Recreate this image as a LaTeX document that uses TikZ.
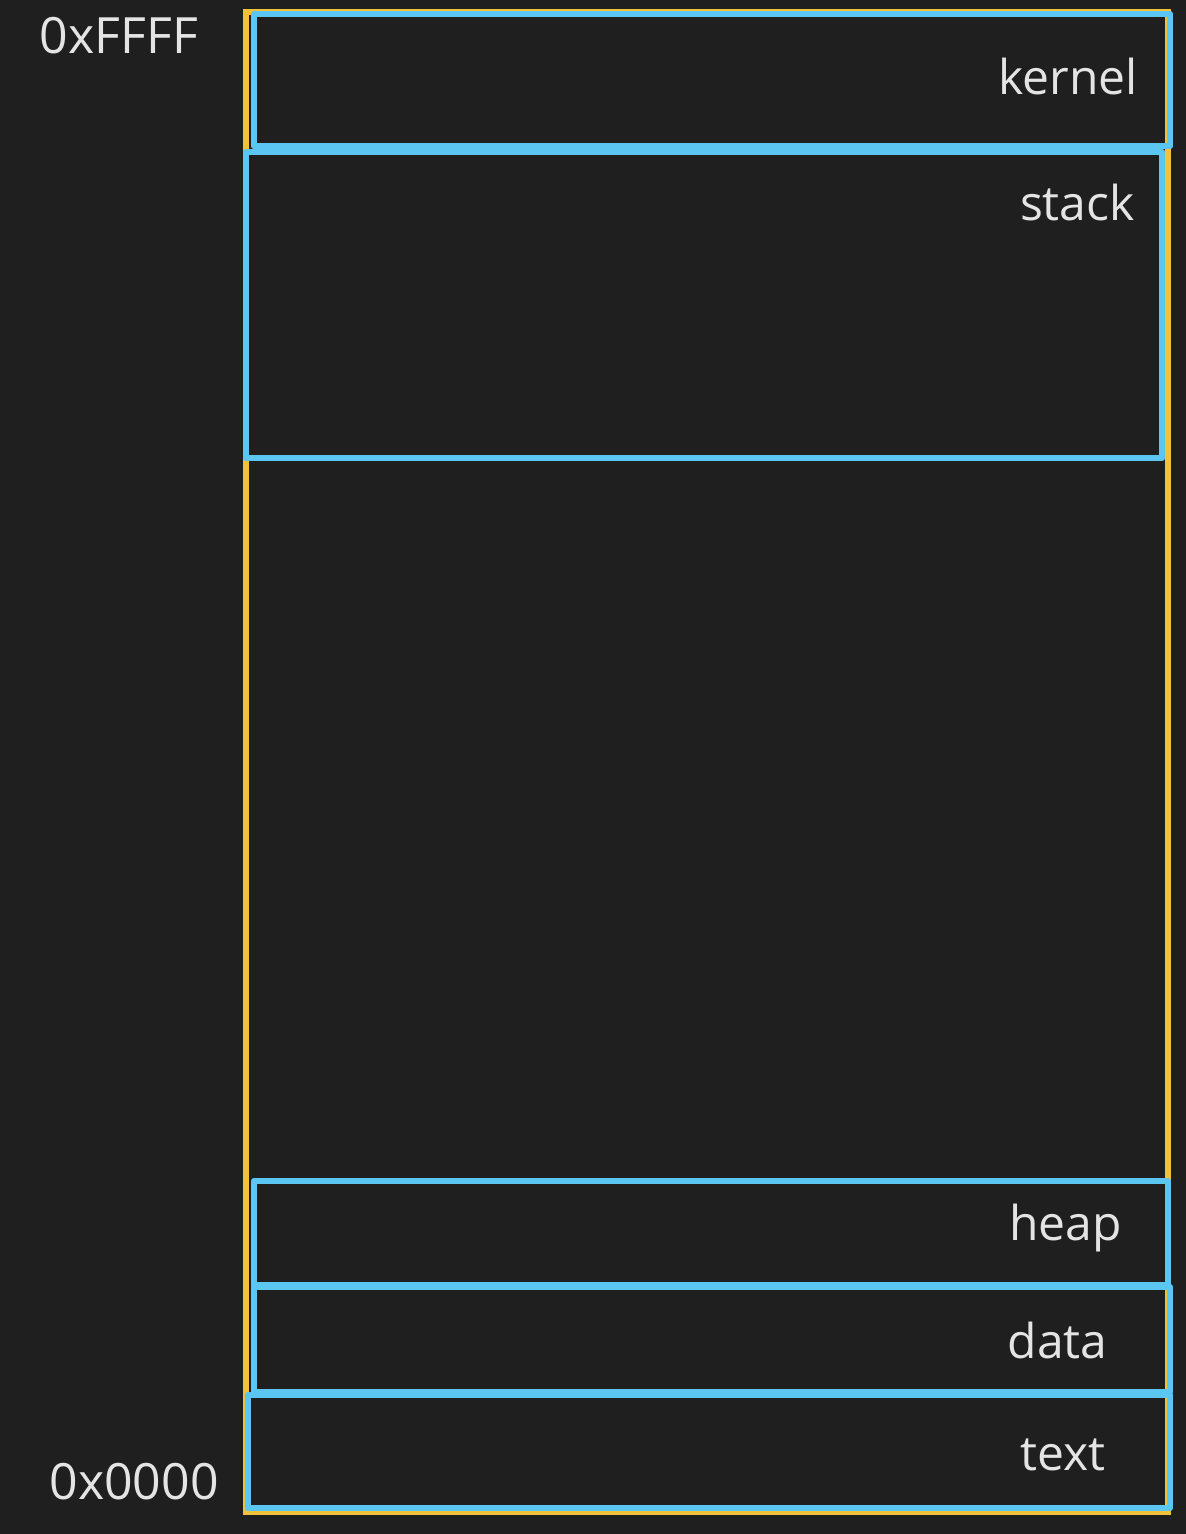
\documentclass[tikz,border=0pt]{standalone}
\usepackage{fontspec}
\setmainfont{Open Sans}
\definecolor{bg}{HTML}{1F1F1F}
\definecolor{seg}{HTML}{5CC6F2}
\definecolor{outer}{HTML}{F0C23A}
\definecolor{lbl}{HTML}{E4E4E4}
\begin{document}
\begin{tikzpicture}[x=0.5pt,y=-0.5pt,
  segbox/.style={draw=seg,line width=3.3pt,line join=round},
  outerbox/.style={draw=outer,line width=2.6pt},
  seglabel/.style={text=lbl,font=\fontsize{24}{28}\selectfont,anchor=east,inner sep=0pt},
  addr/.style={text=lbl,font=\fontsize{25}{28}\selectfont,inner sep=0pt}]
\fill[bg] (0,0) rectangle (1186,1534);
\useasboundingbox (0,0) rectangle (1186,1534);
% outer address space
\draw[outerbox] (246,12) rectangle (1168,1512);
% segments
\draw[segbox] (254,14) rectangle (1170,146);
\draw[segbox] (246,152) rectangle (1162,458);
\draw[segbox] (254,1181) rectangle (1168,1285);
\draw[segbox] (254,1287) rectangle (1170,1392);
\draw[segbox] (248,1395) rectangle (1170,1508);
% labels
\node[seglabel] (kernel) at (1138,77) {kernel};
\node[seglabel] (stack) at (1135,203) {stack};
\node[seglabel] (heap) at (1122,1228) {heap};
\node[seglabel] (data) at (1108,1340) {data};
\node[seglabel] (text) at (1106,1455) {text};
\node[addr] (hi) at (119,36) {0xFFFF};
\node[addr] (lo) at (134,1482) {0x0000};
\end{tikzpicture}
\end{document}
